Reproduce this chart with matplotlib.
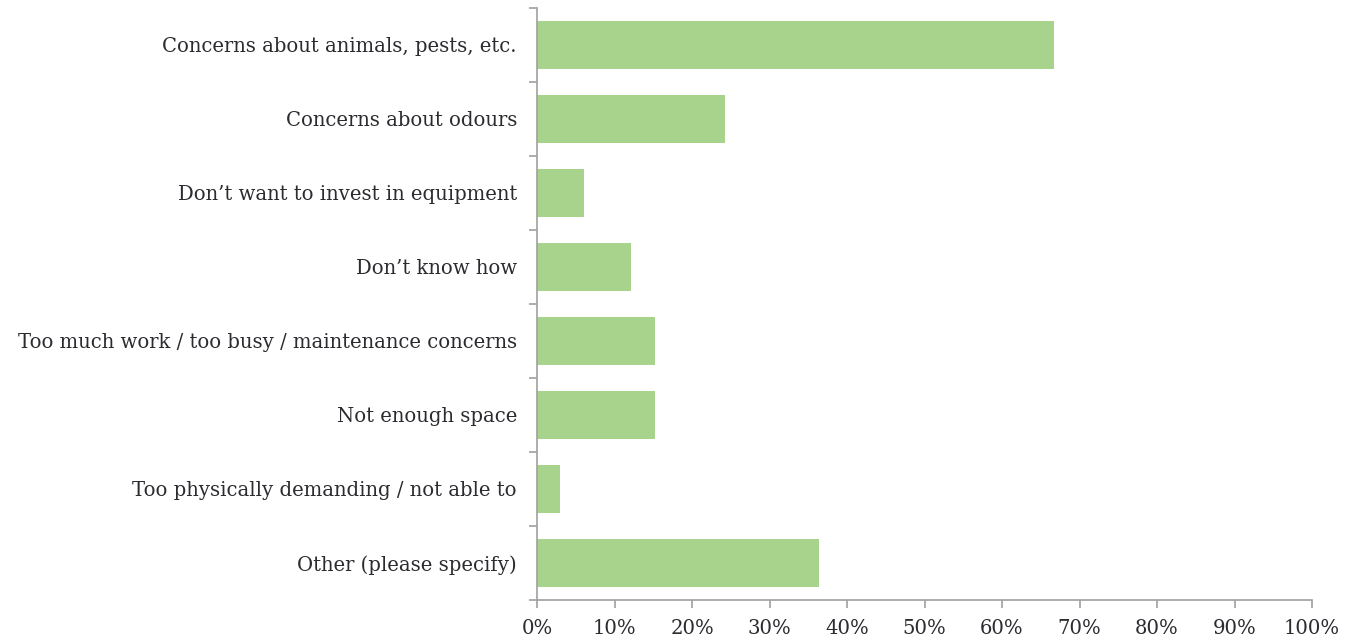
import matplotlib
matplotlib.use("Agg")
import matplotlib.pyplot as plt
import numpy as np

reasons = [
    "Concerns about animals, pests, etc.",
    "Concerns about odours",
    "Don\u2019t want to invest in equipment",
    "Don\u2019t know how",
    "Too much work / too busy / maintenance concerns",
    "Not enough space",
    "Too physically demanding / not able to",
    "Other (please specify)",
]
share = [66.7, 24.2, 6.1, 12.1, 15.2, 15.2, 3.0, 36.4]
xticks = list(range(0, 101, 10))

plt.rcParams["font.family"] = ["DejaVu Serif"]

fig = plt.figure(figsize=(13.52, 6.39), dpi=100)
ax = fig.add_axes([537 / 1352, 1 - 600 / 639, 775 / 1352, 592 / 639])

y = np.arange(len(reasons))
ax.barh(y, share, height=0.66, color="#a8d38c", edgecolor="none")

ax.set_xlim(0, 100)
ax.set_ylim(len(reasons) - 0.5, -0.5)

ax.set_xticks(xticks)
ax.set_xticklabels([f"{t}%" for t in xticks])
ax.set_yticks(y)
ax.set_yticklabels(reasons)
ax.set_yticks(np.arange(-0.5, len(reasons)), minor=True)

grey = "#a0a0a0"
for side in ["top", "right"]:
    ax.spines[side].set_visible(False)
for side in ["left", "bottom"]:
    ax.spines[side].set_color(grey)
    ax.spines[side].set_linewidth(1.2)

ax.tick_params(axis="y", which="major", length=0, pad=14.4, labelsize=14.1, labelcolor="#2b2b30")
ax.tick_params(axis="y", which="minor", length=6, color=grey, width=1.2, direction="out")
ax.tick_params(axis="x", length=6, color=grey, width=1.2, pad=8, labelsize=14.1, labelcolor="#2b2b30")

fig.savefig("out.png", dpi=100)
